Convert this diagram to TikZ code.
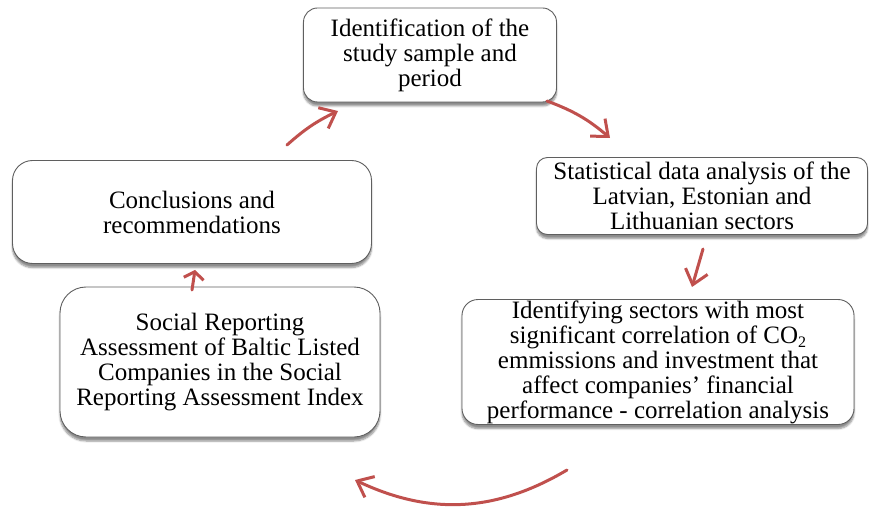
\documentclass[tikz,border=0pt]{standalone}
\usepackage{fontspec}
\setmainfont{Liberation Serif}
\usetikzlibrary{arrows.meta,shadows.blur}
\definecolor{CycleRed}{RGB}{192,80,77}
\definecolor{BoxEdge}{RGB}{95,95,95}
\newcommand{\subtwo}{\raisebox{-0.16em}{\fontsize{16}{16}\selectfont 2}}
\tikzset{
  stagebox/.style={draw=BoxEdge,fill=white,line width=0.9pt,rounded corners=14pt,
    align=center,inner sep=0pt,font=\fontsize{25}{25}\selectfont,
    blur shadow={shadow xshift=0pt,shadow yshift=-4pt,shadow blur steps=6,shadow opacity=45}},
  cyclearrow/.style={-{Straight Barb[length=14pt,width=23pt]},line width=3pt,draw=CycleRed,line cap=round},
  shortarrow/.style={-{Straight Barb[length=7pt,width=20pt]},line width=3pt,draw=CycleRed,line cap=round}
}
\begin{document}
\begin{tikzpicture}[x=1pt,y=-1pt]
  \useasboundingbox (0,0) rectangle (869,510);
  \node[stagebox,minimum width=253pt,minimum height=94pt] (sample) at (430,55) {Identification of the\\study sample and\\period};
  \node[stagebox,minimum width=331pt,minimum height=77pt,rounded corners=11pt] (stats) at (702,196) {Statistical data analysis of the\\Latvian, Estonian and\\Lithuanian sectors};
  \node[stagebox,minimum width=392pt,minimum height=125pt,rounded corners=16pt] (corr) at (658,362) {Identifying sectors with most\\significant correlation of CO\subtwo\\emmissions and investment that\\affect companies’ financial\\performance - correlation analysis};
  \node[stagebox,minimum width=320pt,minimum height=150pt,rounded corners=26pt] (index) at (220,362) {Social Reporting\\Assessment of Baltic Listed\\Companies in the Social\\Reporting Assessment Index};
  \node[stagebox,minimum width=359pt,minimum height=103pt,rounded corners=20pt] (concl) at (192,212) {Conclusions and\\recommendations};
  \coordinate (toSampleA) at (287,145);
  \coordinate (toSampleB) at (338,111);
  \coordinate (toStatsA) at (547,101);
  \coordinate (toStatsB) at (610,138);
  \coordinate (toCorrA) at (703,249);
  \coordinate (toCorrB) at (692,287);
  \coordinate (toIndexA) at (567,470);
  \coordinate (toIndexB) at (355,480);
  \coordinate (toConclA) at (192,290);
  \coordinate (toConclB) at (195,270);
  \draw[cyclearrow] (toSampleA) to[bend left=8] (toSampleB);
  \draw[cyclearrow] (toStatsA) to[bend left=10] (toStatsB);
  \draw[cyclearrow] (toCorrA) -- (toCorrB);
  \draw[cyclearrow] (toIndexA) to[bend left=28] (toIndexB);
  \draw[shortarrow] (toConclA) -- (toConclB);
\end{tikzpicture}
\end{document}
